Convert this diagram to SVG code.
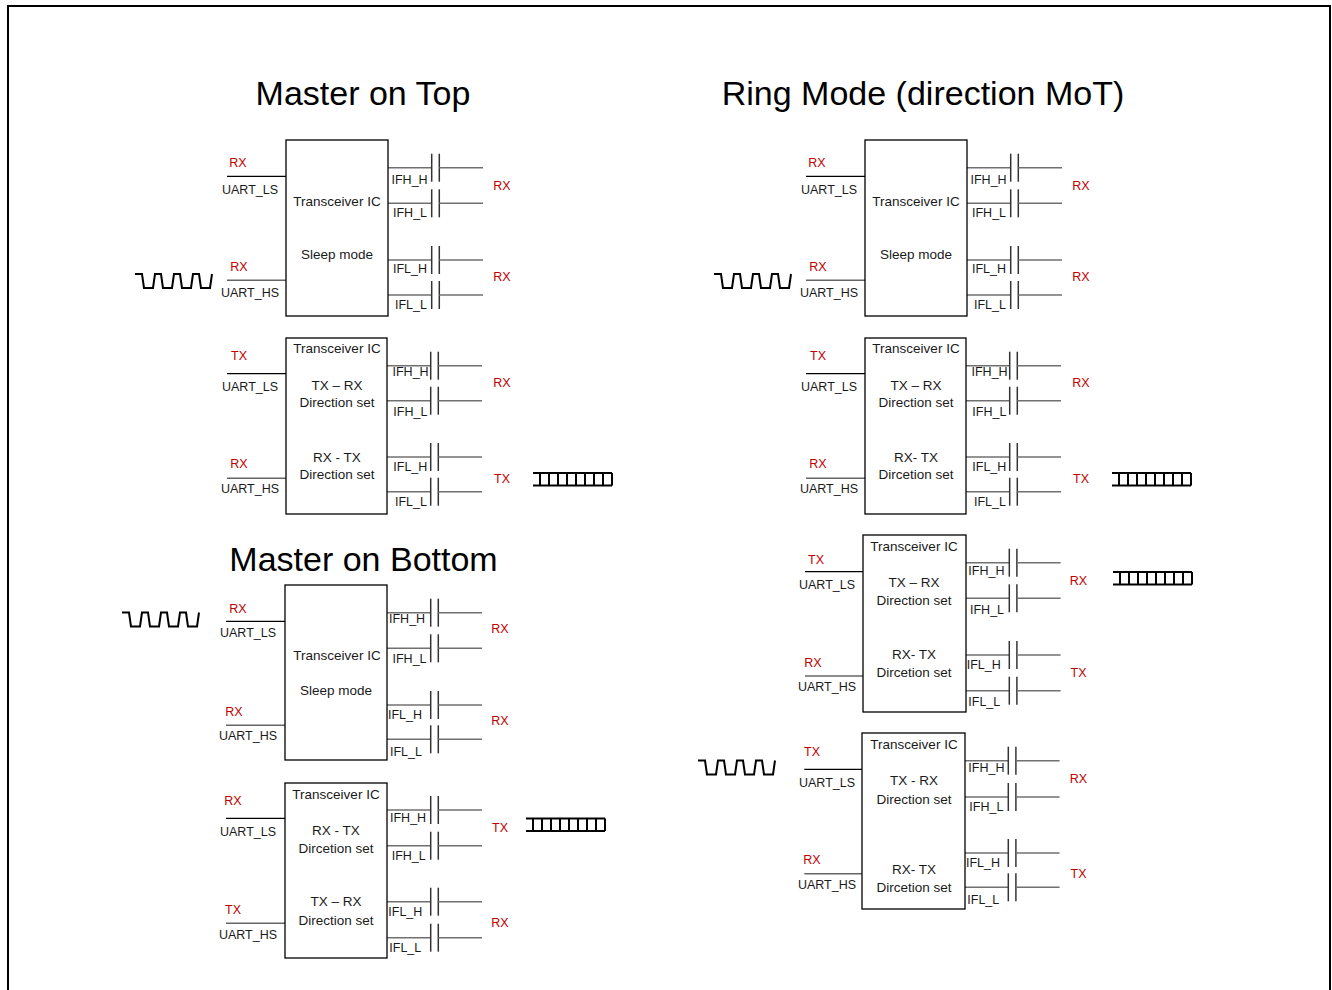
<svg xmlns="http://www.w3.org/2000/svg" width="1332" height="990" viewBox="0 0 1332 990">
<style>
.bg{fill:#fff}
.frame{fill:none;stroke:#000;stroke-width:2}
.box{fill:#fff;stroke:#000;stroke-width:1.3}
.t{font-family:"Liberation Sans",Arial,sans-serif;font-size:12.5px;fill:#1a1a1a;dominant-baseline:central}
.b{font-size:13.5px}
.c{text-anchor:middle}
.red{fill:#C00000}
.title{font-family:"Liberation Sans",Arial,sans-serif;font-size:34px;text-anchor:middle;fill:#000}
.pl{stroke:#000;stroke-width:1.3}
.ph{stroke:#666;stroke-width:1.5}
.rl{stroke:#707070;stroke-width:1.5}
.plate{stroke:#333;stroke-width:1.5}
.wave{fill:none;stroke:#000;stroke-width:2}
</style>
<defs>
<g id="cap"><line class="plate" x1="0" y1="-14" x2="0" y2="14"/><line class="plate" x1="7.6" y1="-14" x2="7.6" y2="14"/><line class="rl" x1="7.6" y1="0" x2="51.3" y2="0"/></g>
<path id="wave" class="wave" d="M0,0 H7 L9,14 H18 L20,0 H26 L28,14 H37 L39,0 H45 L47,14 H56 L58,0 H64 L66,14 H75 L77,0"/>
<path id="train" class="wave" d="M0,0 H79 M0,12.5 H79 M7,0 V12.5 M16,0 V12.5 M25,0 V12.5 M34,0 V12.5 M43,0 V12.5 M52,0 V12.5 M61,0 V12.5 M70,0 V12.5 M79,0 V12.5"/>
</defs>
<rect class="bg" x="0" y="0" width="1332" height="990"/>
<path class="frame" d="M8,992 V6 H1330 V992"/>
<text class="title" x="363" y="105">Master on Top</text>
<text class="title" x="923" y="105">Ring Mode (direction MoT)</text>
<text class="title" x="363.5" y="571">Master on Bottom</text>

<g id="connectors">
<line class="pl" x1="227" y1="176.3" x2="286" y2="176.3"/><line class="ph" x1="227" y1="280.3" x2="286" y2="280.3"/>
<line class="rl" x1="388" y1="167.7" x2="431.7" y2="167.7"/><use href="#cap" x="431.7" y="167.7"/>
<line class="rl" x1="388" y1="203.3" x2="431.7" y2="203.3"/><use href="#cap" x="431.7" y="203.3"/>
<line class="rl" x1="388" y1="260" x2="431.7" y2="260"/><use href="#cap" x="431.7" y="260"/>
<line class="rl" x1="388" y1="295" x2="431.7" y2="295"/><use href="#cap" x="431.7" y="295"/>

<line class="pl" x1="227" y1="373.7" x2="286" y2="373.7"/><line class="ph" x1="227" y1="478.3" x2="286" y2="478.3"/>
<line class="rl" x1="387" y1="365.7" x2="430.7" y2="365.7"/><use href="#cap" x="430.7" y="365.7"/>
<line class="rl" x1="387" y1="400.7" x2="430.7" y2="400.7"/><use href="#cap" x="430.7" y="400.7"/>
<line class="rl" x1="387" y1="457" x2="430.7" y2="457"/><use href="#cap" x="430.7" y="457"/>
<line class="rl" x1="387" y1="491.7" x2="430.7" y2="491.7"/><use href="#cap" x="430.7" y="491.7"/>

<line class="pl" x1="226" y1="621.3" x2="285" y2="621.3"/><line class="ph" x1="226" y1="725.3" x2="285" y2="725.3"/>
<line class="rl" x1="387" y1="612.7" x2="430.7" y2="612.7"/><use href="#cap" x="430.7" y="612.7"/>
<line class="rl" x1="387" y1="648.3" x2="430.7" y2="648.3"/><use href="#cap" x="430.7" y="648.3"/>
<line class="rl" x1="387" y1="705" x2="430.7" y2="705"/><use href="#cap" x="430.7" y="705"/>
<line class="rl" x1="387" y1="739.3" x2="430.7" y2="739.3"/><use href="#cap" x="430.7" y="739.3"/>

<line class="pl" x1="226" y1="818.3" x2="285" y2="818.3"/><line class="ph" x1="226" y1="923.3" x2="285" y2="923.3"/>
<line class="rl" x1="387" y1="810" x2="430.7" y2="810"/><use href="#cap" x="430.7" y="810"/>
<line class="rl" x1="387" y1="845.7" x2="430.7" y2="845.7"/><use href="#cap" x="430.7" y="845.7"/>
<line class="rl" x1="387" y1="901.7" x2="430.7" y2="901.7"/><use href="#cap" x="430.7" y="901.7"/>
<line class="rl" x1="387" y1="937.7" x2="430.7" y2="937.7"/><use href="#cap" x="430.7" y="937.7"/>

<line class="pl" x1="806" y1="176.3" x2="865" y2="176.3"/><line class="ph" x1="806" y1="280.3" x2="865" y2="280.3"/>
<line class="rl" x1="967" y1="167.7" x2="1010.7" y2="167.7"/><use href="#cap" x="1010.7" y="167.7"/>
<line class="rl" x1="967" y1="203.3" x2="1010.7" y2="203.3"/><use href="#cap" x="1010.7" y="203.3"/>
<line class="rl" x1="967" y1="260" x2="1010.7" y2="260"/><use href="#cap" x="1010.7" y="260"/>
<line class="rl" x1="967" y1="295" x2="1010.7" y2="295"/><use href="#cap" x="1010.7" y="295"/>

<line class="pl" x1="806" y1="373.7" x2="865" y2="373.7"/><line class="ph" x1="806" y1="478.3" x2="865" y2="478.3"/>
<line class="rl" x1="966" y1="365.7" x2="1009.7" y2="365.7"/><use href="#cap" x="1009.7" y="365.7"/>
<line class="rl" x1="966" y1="400.7" x2="1009.7" y2="400.7"/><use href="#cap" x="1009.7" y="400.7"/>
<line class="rl" x1="966" y1="457" x2="1009.7" y2="457"/><use href="#cap" x="1009.7" y="457"/>
<line class="rl" x1="966" y1="491.7" x2="1009.7" y2="491.7"/><use href="#cap" x="1009.7" y="491.7"/>

<line class="pl" x1="805" y1="571.7" x2="863" y2="571.7"/><line class="ph" x1="805" y1="676" x2="863" y2="676"/>
<line class="rl" x1="966" y1="562.7" x2="1009.3" y2="562.7"/><use href="#cap" x="1009.3" y="562.7"/>
<line class="rl" x1="966" y1="598.3" x2="1009.3" y2="598.3"/><use href="#cap" x="1009.3" y="598.3"/>
<line class="rl" x1="966" y1="655" x2="1009.3" y2="655"/><use href="#cap" x="1009.3" y="655"/>
<line class="rl" x1="966" y1="690.7" x2="1009.3" y2="690.7"/><use href="#cap" x="1009.3" y="690.7"/>

<line class="pl" x1="804.3" y1="769.3" x2="862" y2="769.3"/><line class="ph" x1="804.3" y1="873.7" x2="862" y2="873.7"/>
<line class="rl" x1="965" y1="760.7" x2="1008.3" y2="760.7"/><use href="#cap" x="1008.3" y="760.7"/>
<line class="rl" x1="965" y1="797" x2="1008.3" y2="797"/><use href="#cap" x="1008.3" y="797"/>
<line class="rl" x1="965" y1="853" x2="1008.3" y2="853"/><use href="#cap" x="1008.3" y="853"/>
<line class="rl" x1="965" y1="887.3" x2="1008.3" y2="887.3"/><use href="#cap" x="1008.3" y="887.3"/>
</g>

<g id="signals">
<use href="#wave" x="135" y="274"/>
<use href="#wave" x="122" y="612.5"/>
<use href="#wave" x="714" y="274"/>
<use href="#wave" x="698" y="760.5"/>
<use href="#train" x="533" y="473"/>
<use href="#train" x="526" y="818.5"/>
<use href="#train" x="1112" y="473"/>
<use href="#train" x="1113" y="572"/>
</g>

<g id="mot-sleep">
<rect class="box" x="286" y="140" width="102" height="176"/>
<text class="t b c" x="337" y="201.5">Transceiver IC</text>
<text class="t b c" x="337" y="254">Sleep mode</text>
<text class="t c red" x="238" y="163">RX</text>
<text class="t c" x="250" y="189.5">UART_LS</text>
<text class="t c red" x="239" y="266.5">RX</text>
<text class="t c" x="250" y="292.5">UART_HS</text>
<text class="t" x="391.5" y="179.5">IFH_H</text>
<text class="t" x="393" y="212.5">IFH_L</text>
<text class="t" x="393" y="269">IFL_H</text>
<text class="t" x="395" y="305">IFL_L</text>
<text class="t c red" x="502" y="185.5">RX</text>
<text class="t c red" x="502" y="276.5">RX</text>
</g>

<g id="mot-active">
<rect class="box" x="286" y="338" width="101" height="176"/>
<text class="t b c" x="337" y="348.3">Transceiver IC</text>
<text class="t b c" x="337" y="385">TX – RX</text>
<text class="t b c" x="337" y="402.7">Direction set</text>
<text class="t b c" x="337" y="457">RX - TX</text>
<text class="t b c" x="337" y="474.5">Direction set</text>
<text class="t c red" x="239" y="355.5">TX</text>
<text class="t c" x="250" y="386.5">UART_LS</text>
<text class="t c red" x="239" y="464.3">RX</text>
<text class="t c" x="250" y="489.3">UART_HS</text>
<text class="t" x="392.5" y="371.7">IFH_H</text>
<text class="t" x="393.3" y="411.7">IFH_L</text>
<text class="t" x="393.3" y="466.7">IFL_H</text>
<text class="t" x="395" y="502">IFL_L</text>
<text class="t c red" x="502" y="383.3">RX</text>
<text class="t c red" x="502" y="478.5">TX</text>
</g>

<g id="mob-sleep">
<rect class="box" x="285" y="585" width="102" height="175"/>
<text class="t b c" x="337" y="655">Transceiver IC</text>
<text class="t b c" x="336" y="690">Sleep mode</text>
<text class="t c red" x="238" y="609">RX</text>
<text class="t c" x="248" y="633.3">UART_LS</text>
<text class="t c red" x="234" y="711.7">RX</text>
<text class="t c" x="248" y="736">UART_HS</text>
<text class="t" x="389" y="619">IFH_H</text>
<text class="t" x="392.5" y="659.3">IFH_L</text>
<text class="t" x="388" y="714.5">IFL_H</text>
<text class="t" x="390" y="751.5">IFL_L</text>
<text class="t c red" x="500" y="629">RX</text>
<text class="t c red" x="500" y="721">RX</text>
</g>

<g id="mob-active">
<rect class="box" x="285" y="783" width="102" height="175"/>
<text class="t b c" x="336" y="794.3">Transceiver IC</text>
<text class="t b c" x="336" y="830">RX - TX</text>
<text class="t b c" x="336" y="848">Dircetion set</text>
<text class="t b c" x="336" y="901.7">TX – RX</text>
<text class="t b c" x="336" y="920">Direction set</text>
<text class="t c red" x="233" y="801">RX</text>
<text class="t c" x="248" y="831.7">UART_LS</text>
<text class="t c red" x="233" y="910">TX</text>
<text class="t c" x="248" y="935">UART_HS</text>
<text class="t" x="390" y="817.7">IFH_H</text>
<text class="t" x="391.7" y="856">IFH_L</text>
<text class="t" x="388.3" y="912.3">IFL_H</text>
<text class="t" x="389.3" y="948.3">IFL_L</text>
<text class="t c red" x="500" y="827.7">TX</text>
<text class="t c red" x="500" y="923.3">RX</text>
</g>

<g id="ring-sleep">
<rect class="box" x="865" y="140" width="102" height="176"/>
<text class="t b c" x="916" y="201.5">Transceiver IC</text>
<text class="t b c" x="916" y="254">Sleep mode</text>
<text class="t c red" x="817" y="163">RX</text>
<text class="t c" x="829" y="189.5">UART_LS</text>
<text class="t c red" x="818" y="266.5">RX</text>
<text class="t c" x="829" y="292.5">UART_HS</text>
<text class="t" x="970.5" y="179.5">IFH_H</text>
<text class="t" x="972" y="212.5">IFH_L</text>
<text class="t" x="972" y="269">IFL_H</text>
<text class="t" x="974" y="305">IFL_L</text>
<text class="t c red" x="1081" y="185.5">RX</text>
<text class="t c red" x="1081" y="276.5">RX</text>
</g>

<g id="ring-2">
<rect class="box" x="865" y="338" width="101" height="176"/>
<text class="t b c" x="916" y="348.3">Transceiver IC</text>
<text class="t b c" x="916" y="385">TX – RX</text>
<text class="t b c" x="916" y="402.7">Direction set</text>
<text class="t b c" x="916" y="457">RX- TX</text>
<text class="t b c" x="916" y="474.5">Dircetion set</text>
<text class="t c red" x="818" y="355.5">TX</text>
<text class="t c" x="829" y="386.5">UART_LS</text>
<text class="t c red" x="818" y="464.3">RX</text>
<text class="t c" x="829" y="489.3">UART_HS</text>
<text class="t" x="971.5" y="371.7">IFH_H</text>
<text class="t" x="972.3" y="411.7">IFH_L</text>
<text class="t" x="972.3" y="466.7">IFL_H</text>
<text class="t" x="974" y="502">IFL_L</text>
<text class="t c red" x="1081" y="383.3">RX</text>
<text class="t c red" x="1081" y="478.5">TX</text>
</g>

<g id="ring-3">
<rect class="box" x="863" y="535" width="103" height="177"/>
<text class="t b c" x="914" y="546">Transceiver IC</text>
<text class="t b c" x="914" y="582.3">TX – RX</text>
<text class="t b c" x="914" y="600.7">Direction set</text>
<text class="t b c" x="914" y="654.3">RX- TX</text>
<text class="t b c" x="914" y="672.7">Dircetion set</text>
<text class="t c red" x="816" y="560">TX</text>
<text class="t c" x="827" y="585">UART_LS</text>
<text class="t c red" x="813" y="662.7">RX</text>
<text class="t c" x="827" y="687">UART_HS</text>
<text class="t" x="968.3" y="570.7">IFH_H</text>
<text class="t" x="970" y="610">IFH_L</text>
<text class="t" x="966.7" y="665">IFL_H</text>
<text class="t" x="968.3" y="701.7">IFL_L</text>
<text class="t c red" x="1078.5" y="580.7">RX</text>
<text class="t c red" x="1078.5" y="672.7">TX</text>
</g>

<g id="ring-4">
<rect class="box" x="862" y="733" width="103" height="176"/>
<text class="t b c" x="914" y="744">Transceiver IC</text>
<text class="t b c" x="914" y="780.7">TX - RX</text>
<text class="t b c" x="914" y="799">Direction set</text>
<text class="t b c" x="914" y="869.7">RX- TX</text>
<text class="t b c" x="914" y="887.3">Dircetion set</text>
<text class="t c red" x="812" y="752">TX</text>
<text class="t c" x="827" y="783">UART_LS</text>
<text class="t c red" x="812" y="859.7">RX</text>
<text class="t c" x="827" y="885">UART_HS</text>
<text class="t" x="968.3" y="768">IFH_H</text>
<text class="t" x="969.3" y="807.3">IFH_L</text>
<text class="t" x="966" y="863">IFL_H</text>
<text class="t" x="967.3" y="899.7">IFL_L</text>
<text class="t c red" x="1078.5" y="778.7">RX</text>
<text class="t c red" x="1078.5" y="874">TX</text>
</g>
</svg>
